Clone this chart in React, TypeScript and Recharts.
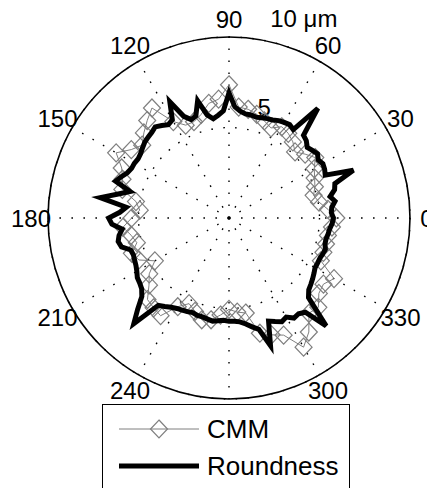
import React from "react";
import {
  PolarAngleAxis,
  PolarGrid,
  PolarRadiusAxis,
  Radar,
  RadarChart,
} from "recharts";

// polar tick angles (deg)
const gridAngles = [0, 30, 60, 90, 120, 150, 180, 210, 240, 270, 300, 330];

// CMM profile, um, one value every 5 deg starting at 0
const cmm = [
  5.93, 5.49, 5.05, 4.84, 5.05, 5.22, 5.44, 5.82, 5.49, 5.16, 5.49, 5.71,
  5.82, 5.49, 5.71, 5.93, 6.1, 6.15, 7.36, 6.59, 6.43, 5.93, 5.66, 5.66,
  6.15, 7.42, 7.03, 6.65, 6.26, 6.59, 7.2, 6.54, 6.26, 6.1, 5.22, 4.95,
  5.38, 5.88, 5.49, 5.27, 5.71, 5.49, 4.73, 5.38, 5.77, 6.37, 6.48, 6.59,
  5.66, 5.22, 5.49, 5.82, 5.71, 5.38, 5.05, 5.22, 5.33, 6.59, 6.87, 7.14,
  8.24, 7.69, 6.87, 6.98, 6.48, 6.37, 6.7, 5.6, 5.55, 5.55, 5.55, 5.71,
];

// roundness tester profile, um, one value every 3 deg starting at 0
const roundness = [
  5.77, 5.66, 5.71, 5.93, 5.71, 6.04, 6.15, 7.36, 5.82, 5.93, 5.99, 5.88,
  6.04, 5.93, 5.82, 6.04, 6.15, 7.8, 6.04, 6.15, 6.1, 6.04, 5.93, 5.88,
  5.82, 5.77, 5.82, 5.82, 5.93, 6.15, 6.92, 5.93, 5.71, 5.55, 5.82, 6.7,
  5.93, 5.82, 6.15, 7.2, 6.26, 6.15, 6.32, 6.48, 6.37, 6.32, 6.26, 6.15,
  6.04, 5.99, 6.04, 6.04, 6.15, 6.37, 6.59, 5.66, 6.32, 7.2, 5.71, 6.04,
  6.65, 6.48, 5.93, 6.15, 6.26, 6.15, 5.71, 5.66, 5.71, 5.77, 5.88, 6.04,
  6.1, 6.21, 6.48, 7.14, 7.86, 6.21, 6.04, 5.88, 5.77, 5.71, 5.66, 5.6,
  5.66, 5.66, 5.71, 5.77, 5.71, 5.66, 5.71, 5.71, 5.77, 5.93, 6.15, 6.37,
  7.42, 6.1, 6.26, 6.43, 6.32, 6.59, 6.54, 6.7, 8.02, 6.21, 5.93, 5.82,
  5.71, 5.6, 5.49, 5.49, 5.49, 5.55, 5.6, 5.49, 5.49, 5.55, 5.6, 5.71,
];

const W = 435;
const H = 488;
const CX = 229;
const CY = 218;
const R = 181;
const FONT = "'Liberation Sans', Arial, sans-serif";

const gridData = gridAngles.map((deg) => ({ deg, v: 0 }));
const cmmData = cmm.map((v, i) => ({ deg: i * 5, v }));
const roundData = roundness.map((v, i) => ({ deg: i * 3, v }));

const layer: React.CSSProperties = { position: "absolute", left: 0, top: 0 };

const AngleTick = (props: any) => {
  // 270 sits under the legend box
  if (props.payload.value === 270) return <g />;
  const a = (props.payload.coordinate * Math.PI) / 180;
  const x = CX + 198 * Math.cos(a);
  const y = CY - 199 * Math.sin(a);
  return (
    <text
      x={x}
      y={y}
      textAnchor="middle"
      dominantBaseline="central"
      fontFamily={FONT}
      fontSize={24}
      fill="#000"
    >
      {props.payload.value}
    </text>
  );
};

const RadiusTick = (props: any) => {
  const { x, y, payload } = props;
  if (payload.value !== 5 && payload.value !== 10) return <g />;
  return (
    <text
      x={x + 16}
      y={y - 12}
      textAnchor="start"
      fontFamily={FONT}
      fontSize={24}
      fill="#000"
    >
      {payload.value === 10 ? "10 \u03bcm" : "5"}
    </text>
  );
};

const Diamond = (props: any) => {
  const { cx, cy, index } = props;
  if (cx == null || cy == null) return <g key={index} />;
  return (
    <path
      key={index}
      d={`M${cx},${cy - 9}L${cx + 8.5},${cy}L${cx},${cy + 9}L${cx - 8.5},${cy}Z`}
      fill="none"
      stroke="#7f7f7f"
      strokeWidth={1.2}
    />
  );
};

export default function App() {
  return (
    <div style={{ position: "relative", width: W, height: H, margin: "-8px 0 0 -8px", background: "#fff" }}>
      {/* band scale on the angle axis: ticks sit one step back, points one step ahead */}
      <div style={layer}>
        <RadarChart width={W} height={H} cx={CX} cy={CY} outerRadius={R} startAngle={30} endAngle={390} data={gridData}>
          <PolarGrid gridType="circle" stroke="#000" strokeWidth={1.4} strokeDasharray="1.6 10.4" />
          <PolarAngleAxis
            dataKey="deg"
            axisLineType="circle"
            axisLine={{ stroke: "#000", strokeWidth: 1.6 }}
            tickLine={false}
            tick={AngleTick}
          />
          <PolarRadiusAxis
            angle={82}
            domain={[0, 10]}
            tickCount={3}
            axisLine={false}
            tickLine={false}
            tick={RadiusTick}
          />
          <Radar dataKey="v" stroke="none" fill="none" dot={false} isAnimationActive={false} />
        </RadarChart>
      </div>
      <div style={layer}>
        <RadarChart width={W} height={H} cx={CX} cy={CY} outerRadius={R} startAngle={-5} endAngle={355} data={cmmData}>
          <PolarAngleAxis dataKey="deg" tick={false} axisLine={false} tickLine={false} />
          <PolarRadiusAxis domain={[0, 10]} tick={false} axisLine={false} tickLine={false} />
          <Radar
            dataKey="v"
            name="CMM"
            stroke="#7f7f7f"
            strokeWidth={1}
            fill="none"
            fillOpacity={0}
            dot={Diamond}
            isAnimationActive={false}
          />
        </RadarChart>
      </div>
      <div style={layer}>
        <RadarChart width={W} height={H} cx={CX} cy={CY} outerRadius={R} startAngle={-3} endAngle={357} data={roundData}>
          <PolarAngleAxis dataKey="deg" tick={false} axisLine={false} tickLine={false} />
          <PolarRadiusAxis domain={[0, 10]} tick={false} axisLine={false} tickLine={false} />
          <Radar
            dataKey="v"
            name="Roundness"
            stroke="#000"
            strokeWidth={5}
            fill="none"
            fillOpacity={0}
            dot={false}
            isAnimationActive={false}
          />
        </RadarChart>
      </div>
      <div
        style={{
          position: "absolute",
          left: 102,
          top: 404,
          width: 246,
          height: 100,
          border: "1.5px solid #000",
          background: "#fff",
          fontFamily: FONT,
        }}
      >
        <svg width={246} height={100} style={{ position: "absolute", left: 0, top: 0 }}>
          <line x1={16} x2={96} y1={24} y2={24} stroke="#7f7f7f" strokeWidth={1} />
          <path d="M56,15L64.5,24L56,33L47.5,24Z" fill="none" stroke="#7f7f7f" strokeWidth={1.2} />
          <line x1={16} x2={96} y1={61} y2={61} stroke="#000" strokeWidth={5} />
          <text x={104} y={33} fontFamily={FONT} fontSize={26}>CMM</text>
          <text x={104} y={70} fontFamily={FONT} fontSize={26}>Roundness</text>
        </svg>
      </div>
    </div>
  );
}
